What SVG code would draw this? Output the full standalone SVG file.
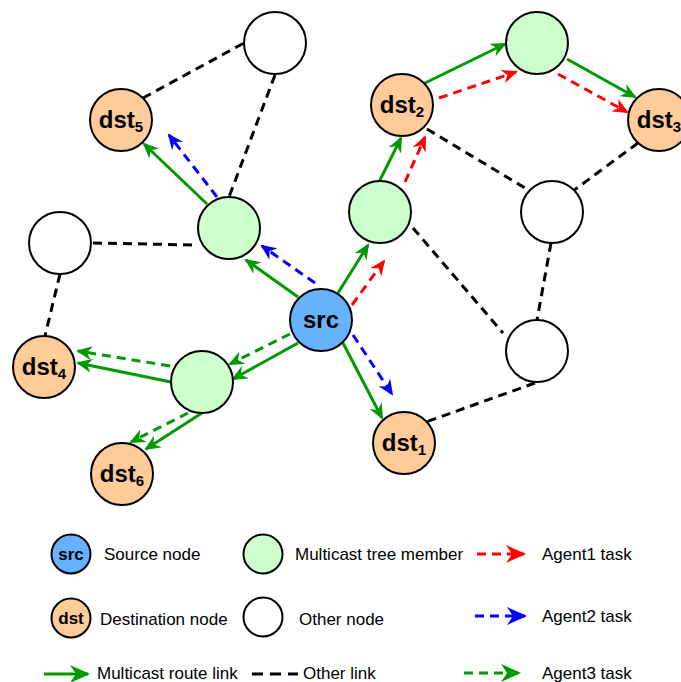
<svg xmlns="http://www.w3.org/2000/svg" width="681" height="682" viewBox="0 0 681 682">
<style>
.n{stroke:#000;stroke-width:2}
.src{fill:#66B2FF}.dst{fill:#FFCC99}.mem{fill:#CCFFCC}.oth{fill:#fff}
.lbl{font-family:"Liberation Sans",Arial,sans-serif;font-weight:bold;font-size:24px;fill:#000;text-anchor:middle}
.sub{font-size:15px}
.leg{font-family:"Liberation Sans",Arial,sans-serif;font-size:17px;fill:#000}
.lb{font-family:"Liberation Sans",Arial,sans-serif;font-weight:bold;font-size:17px;fill:#000;text-anchor:middle}
.ol{stroke:#000;stroke-width:3;stroke-dasharray:9 6;fill:none}
.oll{stroke:#000;stroke-width:3;stroke-dasharray:11 7;fill:none}
.rl{stroke:#009900;stroke-width:3;fill:none;marker-end:url(#ag)}
.a1{stroke:#FF0000;stroke-width:3;stroke-dasharray:9 6;fill:none;marker-end:url(#ar)}
.a2{stroke:#0000FF;stroke-width:3;stroke-dasharray:9 6;fill:none;marker-end:url(#ab)}
.a3{stroke:#009900;stroke-width:3;stroke-dasharray:9 6;fill:none;marker-end:url(#ag)}
.lrl{stroke:#009900;stroke-width:3;fill:none;marker-end:url(#lg)}
.la1{stroke:#FF0000;stroke-width:3;stroke-dasharray:9 6;fill:none;marker-end:url(#lr)}
.la2{stroke:#0000FF;stroke-width:3;stroke-dasharray:9 6;fill:none;marker-end:url(#lb)}
.la3{stroke:#009900;stroke-width:3;stroke-dasharray:9 6;fill:none;marker-end:url(#lg)}
</style>
<defs>
<marker id="ag" viewBox="0 0 16 14" markerWidth="16" markerHeight="14" refX="14" refY="7" orient="auto" markerUnits="userSpaceOnUse"><path d="M0,0 L16,7 L0,14 L5,7 Z" fill="#009900"/></marker>
<marker id="ar" viewBox="0 0 16 14" markerWidth="16" markerHeight="14" refX="14" refY="7" orient="auto" markerUnits="userSpaceOnUse"><path d="M0,0 L16,7 L0,14 L5,7 Z" fill="#FF0000"/></marker>
<marker id="ab" viewBox="0 0 16 14" markerWidth="16" markerHeight="14" refX="14" refY="7" orient="auto" markerUnits="userSpaceOnUse"><path d="M0,0 L16,7 L0,14 L5,7 Z" fill="#0000FF"/></marker>
<marker id="lg" viewBox="0 0 20 18" markerWidth="20" markerHeight="18" refX="18" refY="9" orient="auto" markerUnits="userSpaceOnUse"><path d="M0,0 L20,9 L0,18 L6,9 Z" fill="#009900"/></marker>
<marker id="lr" viewBox="0 0 20 18" markerWidth="20" markerHeight="18" refX="18" refY="9" orient="auto" markerUnits="userSpaceOnUse"><path d="M0,0 L20,9 L0,18 L6,9 Z" fill="#FF0000"/></marker>
<marker id="lb" viewBox="0 0 20 18" markerWidth="20" markerHeight="18" refX="18" refY="9" orient="auto" markerUnits="userSpaceOnUse"><path d="M0,0 L20,9 L0,18 L6,9 Z" fill="#0000FF"/></marker>
</defs>
<rect width="681" height="682" fill="#fff"/>
<g id="connectors">
<line class="ol" x1="143" y1="98" x2="244" y2="43"/>
<line class="ol" x1="275" y1="75" x2="229" y2="197"/>
<line class="ol" x1="93" y1="243" x2="196" y2="245"/>
<line class="ol" x1="60" y1="274" x2="45" y2="336"/>
<line class="ol" x1="427" y1="129" x2="530" y2="191"/>
<line class="ol" x1="638" y1="143" x2="573" y2="191"/>
<line class="ol" x1="413" y1="228" x2="503" y2="333"/>
<line class="ol" x1="551" y1="243" x2="537" y2="320"/>
<line class="ol" x1="535" y1="383" x2="426" y2="422"/>
<line class="rl" x1="298" y1="297" x2="246" y2="260"/>
<line class="rl" x1="207" y1="204" x2="144" y2="144"/>
<line class="rl" x1="298" y1="343" x2="233" y2="379"/>
<line class="rl" x1="171" y1="382" x2="78" y2="363"/>
<line class="rl" x1="202" y1="413" x2="146" y2="449"/>
<line class="rl" x1="338" y1="293" x2="368" y2="245"/>
<line class="rl" x1="379" y1="182" x2="401" y2="138"/>
<line class="rl" x1="425" y1="83" x2="505" y2="44"/>
<line class="rl" x1="567" y1="59" x2="635" y2="97"/>
<line class="rl" x1="343" y1="343" x2="382" y2="418"/>
<line class="a2" x1="315" y1="283" x2="262" y2="246"/>
<line class="a2" x1="217" y1="197" x2="169" y2="135"/>
<line class="a2" x1="353" y1="335" x2="392" y2="394"/>
<line class="a1" x1="352" y1="305" x2="384" y2="261"/>
<line class="a1" x1="405" y1="182" x2="425" y2="137"/>
<line class="a1" x1="439" y1="98" x2="516" y2="72"/>
<line class="a1" x1="558" y1="74" x2="627" y2="112"/>
<line class="a3" x1="290" y1="334" x2="230" y2="364"/>
<line class="a3" x1="170" y1="366" x2="78" y2="351"/>
<line class="a3" x1="188" y1="413" x2="131" y2="442"/>
</g>
<g id="src"><circle class="n src" cx="321" cy="320" r="31"/><text class="lbl" x="321" y="328">src</text></g>
<g id="dst1"><circle class="n dst" cx="404" cy="443" r="31"/><text class="lbl" x="404" y="451">dst<tspan class="sub" dy="4">1</tspan></text></g>
<g id="dst2"><circle class="n dst" cx="402" cy="105" r="31"/><text class="lbl" x="402" y="113">dst<tspan class="sub" dy="4">2</tspan></text></g>
<g id="dst3"><circle class="n dst" cx="659" cy="120" r="31"/><text class="lbl" x="659" y="128">dst<tspan class="sub" dy="4">3</tspan></text></g>
<g id="dst4"><circle class="n dst" cx="44" cy="367" r="31"/><text class="lbl" x="44" y="375">dst<tspan class="sub" dy="4">4</tspan></text></g>
<g id="dst5"><circle class="n dst" cx="121" cy="120" r="31"/><text class="lbl" x="121" y="128">dst<tspan class="sub" dy="4">5</tspan></text></g>
<g id="dst6"><circle class="n dst" cx="122" cy="474" r="31"/><text class="lbl" x="122" y="482">dst<tspan class="sub" dy="4">6</tspan></text></g>
<g id="m1"><circle class="n mem" cx="229" cy="228" r="31"/></g>
<g id="m2"><circle class="n mem" cx="202" cy="382" r="31"/></g>
<g id="m3"><circle class="n mem" cx="380" cy="212" r="31"/></g>
<g id="m4"><circle class="n mem" cx="537" cy="43" r="31"/></g>
<g id="o1"><circle class="n oth" cx="275" cy="43" r="31"/></g>
<g id="o2"><circle class="n oth" cx="60" cy="243" r="31"/></g>
<g id="o3"><circle class="n oth" cx="552" cy="212" r="31"/></g>
<g id="o4"><circle class="n oth" cx="537" cy="351" r="31"/></g>
<g id="legend">
<circle class="n src" cx="71" cy="554" r="19.5"/><text class="lb" x="71" y="560">src</text>
<text class="leg" x="104" y="560">Source node</text>
<circle class="n dst" cx="71" cy="618" r="19.5"/><text class="lb" x="71" y="624">dst</text>
<text class="leg" x="100" y="625">Destination node</text>
<circle class="n mem" cx="263" cy="554" r="19.5"/>
<text class="leg" x="295" y="560">Multicast tree member</text>
<circle class="n oth" cx="263" cy="617" r="19.5"/>
<text class="leg" x="299" y="625">Other node</text>
<line class="lrl" x1="44" y1="674" x2="88" y2="674"/>
<text class="leg" x="97" y="679">Multicast route link</text>
<line class="oll" x1="252" y1="674" x2="298" y2="674"/>
<text class="leg" x="303" y="679">Other link</text>
<line class="la1" x1="477" y1="554" x2="524" y2="554"/>
<text class="leg" x="542" y="560">Agent1 task</text>
<line class="la2" x1="475" y1="616" x2="525" y2="616"/>
<text class="leg" x="542" y="622">Agent2 task</text>
<line class="la3" x1="464" y1="673" x2="519" y2="673"/>
<text class="leg" x="542" y="679">Agent3 task</text>
</g>
</svg>
